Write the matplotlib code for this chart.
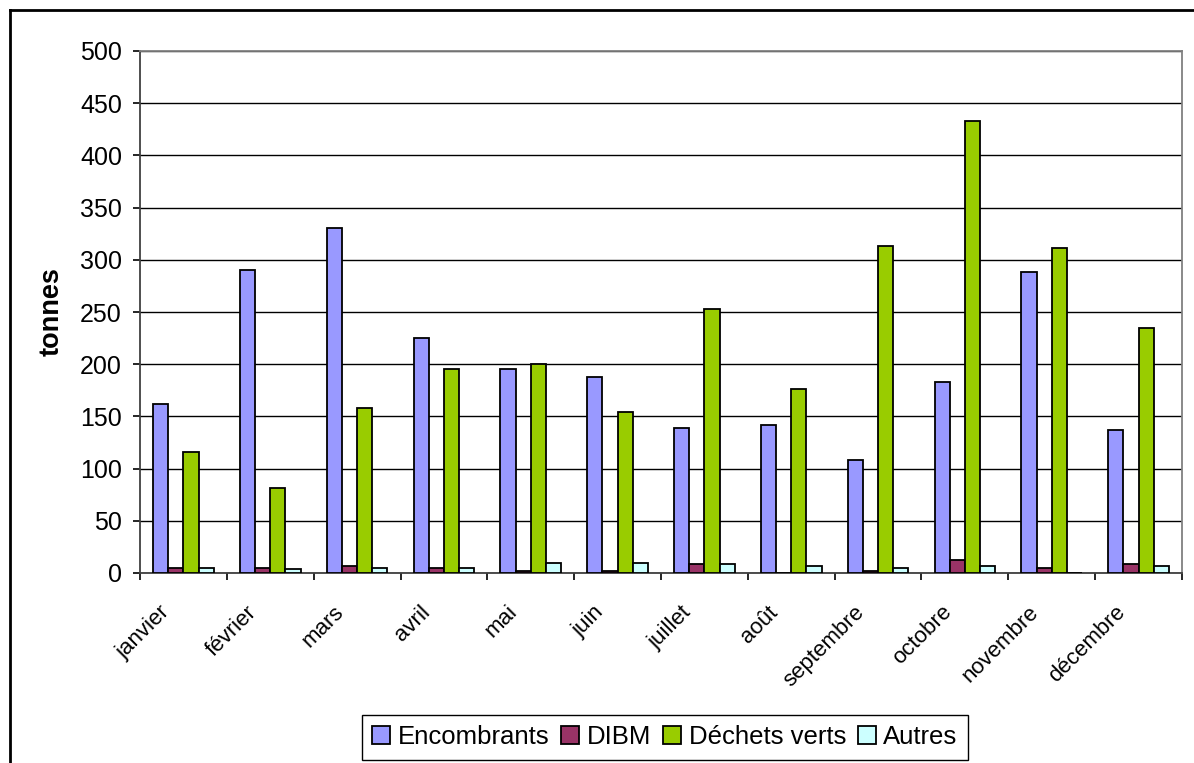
import matplotlib
matplotlib.use("Agg")
import matplotlib.pyplot as plt
import matplotlib.transforms as mtransforms
import numpy as np
from matplotlib.lines import Line2D
from matplotlib.patches import Patch

months = ["janvier", "février", "mars", "avril", "mai", "juin", "juillet",
          "août", "septembre", "octobre", "novembre", "décembre"]
encombrants = [162, 290, 330, 225, 195, 188, 139, 142, 108, 183, 288, 137]
dibm = [5, 5, 7, 5, 1.5, 1.5, 9, 0, 2, 12.5, 5, 9]
dechets_verts = [116, 81, 158, 195, 200, 154, 253, 176, 313, 433, 311, 235]
autres = [5, 3.5, 5, 5, 10, 10, 9, 7, 5, 7, 0, 7]

series = [("Encombrants", encombrants, "#9999FF"),
          ("DIBM", dibm, "#993366"),
          ("Déchets verts", dechets_verts, "#99CC00"),
          ("Autres", autres, "#CCFFFF")]

plt.rcParams['font.family'] = ['Liberation Sans', 'DejaVu Sans']

W, H = 1194, 763
fig = plt.figure(figsize=(W / 100, H / 100), dpi=100)
ax = fig.add_axes([140 / W, 1 - 573 / H, (1182 - 140) / W, (573 - 51) / H])

x = np.arange(len(months))
bw = 0.175
for i, (name, vals, col) in enumerate(series):
    ax.bar(x + (i - 1.5) * bw, vals, width=bw, color=col, edgecolor="black",
           linewidth=1.3, label=name, zorder=3)

ax.set_xlim(-0.5, len(months) - 0.5)
ax.set_ylim(0, 500)
ax.set_yticks(np.arange(0, 501, 50))
ax.yaxis.grid(True, color="black", linewidth=1, zorder=0)
ax.set_axisbelow(True)

for s in ["top", "right"]:
    ax.spines[s].set_color("#808080")
    ax.spines[s].set_linewidth(1.3)
ax.spines["left"].set_color("#404040")
ax.spines["bottom"].set_color("#404040")
ax.spines["left"].set_linewidth(1.3)
ax.spines["bottom"].set_linewidth(1.3)

ax.tick_params(axis="y", labelsize=18, length=5, width=1.2, pad=8, direction="out")
ax.set_xticks(x)
ax.set_xticks(np.arange(-0.5, len(months), 1), minor=True)
ax.tick_params(axis="x", which="major", length=0, pad=12)
ax.tick_params(axis="x", which="minor", length=5, width=1.2, direction="out")
ax.set_xticklabels(months, rotation=45, ha="right", rotation_mode="anchor", fontsize=16)
offset = mtransforms.ScaledTranslation(-24 / 100, -12 / 100, fig.dpi_scale_trans)
for lab in ax.get_xticklabels():
    lab.set_transform(lab.get_transform() + offset)

fig.text(52 / W, 1 - 312 / H, "tonnes", rotation=90, fontsize=19.5, fontweight="bold",
         ha="center", va="center")

handles = [Patch(facecolor=c, edgecolor="black", linewidth=1.3, label=n) for n, _, c in series]
leg = fig.legend(handles=handles, loc="upper center", bbox_to_anchor=(665 / W, 1 - 715 / H),
                 ncol=4, fontsize=18.5, frameon=True, fancybox=False, framealpha=1,
                 handlelength=0.7, handleheight=0.7, handletextpad=0.3,
                 columnspacing=0.45, borderpad=0.4, borderaxespad=0)
leg.get_frame().set_edgecolor("black")
leg.get_frame().set_linewidth(1.0)

# outer chart border
fig.add_artist(Line2D([9.5 / W, 9.5 / W], [0, 1 - 10 / H], transform=fig.transFigure,
                      color="black", linewidth=2))
fig.add_artist(Line2D([9.5 / W, 1], [1 - 10 / H, 1 - 10 / H], transform=fig.transFigure,
                      color="black", linewidth=2))

fig.savefig("out.png", dpi=100)
